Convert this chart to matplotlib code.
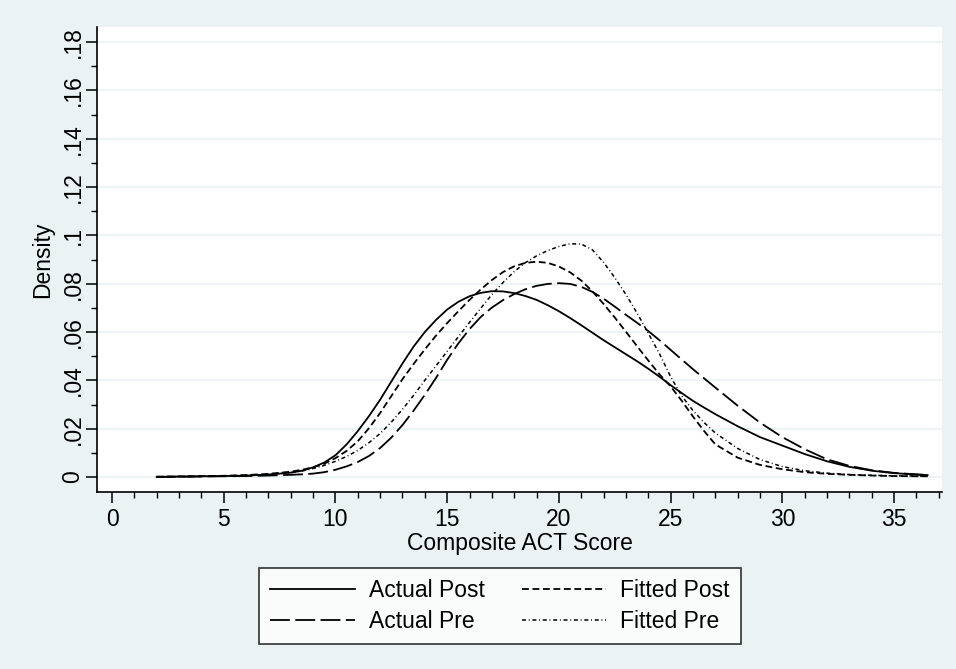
import numpy as np
import matplotlib.pyplot as plt
from matplotlib.ticker import MultipleLocator, FuncFormatter

plt.rcParams['font.family'] = ['Liberation Sans', 'DejaVu Sans']

score = [2, 3, 4, 5, 6, 7, 8,
         8.5, 9, 9.5, 10, 10.5, 11, 11.5, 12, 12.5, 13, 13.5, 14, 14.5, 15, 15.5,
         16, 16.5, 17, 17.5, 18, 18.5, 19, 19.5, 20, 20.5, 21, 21.5, 22, 22.5,
         23, 23.5, 24, 24.5, 25, 25.5, 26, 26.5, 27,
         28, 29, 30, 31, 32, 33, 34, 35, 36, 36.5]

actual_post = [0.0001, 0.0002, 0.0003, 0.0004, 0.0006, 0.001, 0.0018,
               0.0026, 0.004, 0.006, 0.009, 0.0135, 0.019, 0.0252, 0.032, 0.0395,
               0.047, 0.054, 0.060, 0.065, 0.0693, 0.0725, 0.0748, 0.0762, 0.0769,
               0.0768, 0.0761, 0.0749, 0.0733, 0.0711, 0.0686, 0.0658, 0.0628,
               0.0597, 0.0566, 0.0537, 0.0508, 0.0479, 0.0448, 0.0415, 0.038,
               0.0347, 0.0315, 0.0287, 0.026,
               0.021, 0.0165, 0.013, 0.0095, 0.0065, 0.0042, 0.0026, 0.0016, 0.001, 0.0008]

actual_pre = [0.0, 0.0001, 0.0002, 0.0003, 0.0004, 0.0006, 0.0009,
              0.0011, 0.0014, 0.002, 0.003, 0.0044, 0.0062, 0.0087, 0.012, 0.0163,
              0.0215, 0.0275, 0.034, 0.041, 0.0485, 0.0553, 0.0612, 0.0662, 0.0701,
              0.0732, 0.0757, 0.0777, 0.0791, 0.0799, 0.0802, 0.0799, 0.0787,
              0.0766, 0.0738, 0.0705, 0.0671, 0.0638, 0.0604, 0.0566, 0.0526,
              0.0486, 0.0446, 0.0408, 0.037,
              0.0295, 0.0225, 0.0165, 0.0115, 0.0073, 0.0046, 0.0028, 0.0017, 0.0011, 0.0008]

fitted_post = [0.0001, 0.0002, 0.0003, 0.0005, 0.0008, 0.0013, 0.0022,
               0.003, 0.004, 0.0055, 0.0078, 0.0108, 0.0148, 0.0202, 0.0265, 0.0335,
               0.0405, 0.0468, 0.0528, 0.0585, 0.0637, 0.0686, 0.0733, 0.0776, 0.0815,
               0.0848, 0.0872, 0.0886, 0.0891, 0.0886, 0.0871, 0.0847, 0.0813,
               0.0768, 0.0716, 0.066, 0.0601, 0.0541, 0.0482, 0.0425, 0.0375,
               0.0315, 0.025, 0.019, 0.0135,
               0.008, 0.005, 0.0032, 0.002, 0.0013, 0.0009, 0.0006, 0.0004, 0.0003, 0.0003]

fitted_pre = [0.0001, 0.0002, 0.0003, 0.0004, 0.0006, 0.001, 0.0018,
              0.0025, 0.0035, 0.0048, 0.0065, 0.0085, 0.011, 0.0142, 0.018, 0.0227,
              0.028, 0.0338, 0.040, 0.046, 0.052, 0.058, 0.064, 0.0698, 0.0755,
              0.0805, 0.085, 0.0887, 0.0915, 0.0937, 0.0954, 0.0965, 0.0964,
              0.094, 0.0888, 0.0825, 0.0755, 0.0678, 0.0595, 0.051, 0.0415,
              0.0335, 0.0275, 0.0225, 0.0182,
              0.0118, 0.0072, 0.0043, 0.0026, 0.0016, 0.001, 0.0007, 0.0005, 0.0004, 0.0003]

bg = '#EAF2F3'
fig = plt.figure(figsize=(9.56, 6.69), dpi=100, facecolor=bg)
ax = fig.add_axes([0.1015, 0.2646, 0.884, 0.695])
ax.set_facecolor('white')

lw = 1.3
ax.plot(score, actual_post, color='black', lw=lw, label='Actual Post')
ax.plot(score, fitted_post, color='black', lw=lw, dashes=(3.8, 2.0), label='Fitted Post')
ax.plot(score, actual_pre, color='black', lw=lw, dashes=(11, 3), label='Actual Pre')
ax.plot(score, fitted_pre, color='black', lw=1.1, dashes=(2.6, 1.8, 0.6, 1.8), label='Fitted Pre')

ax.set_xlim(-0.67, 37.15)
ax.set_ylim(-0.0062, 0.1862)

ax.xaxis.set_major_locator(MultipleLocator(5))
ax.xaxis.set_minor_locator(MultipleLocator(1))
ax.set_yticks(np.arange(0, 0.19, 0.02))
ax.yaxis.set_minor_locator(MultipleLocator(0.01))


def fmt(v, pos):
    if abs(v) < 1e-9:
        return '0'
    return ('%g' % round(v, 2)).lstrip('0')


ax.yaxis.set_major_formatter(FuncFormatter(fmt))
ax.grid(axis='y', color=bg, lw=1.2)
ax.set_axisbelow(True)

for s in ['top', 'right']:
    ax.spines[s].set_visible(False)
for s in ['left', 'bottom']:
    ax.spines[s].set_linewidth(1.2)

ax.tick_params(which='major', length=8, width=1.1, labelsize=16.5)
ax.tick_params(axis='y', which='major', pad=1)
ax.tick_params(which='minor', length=4.5, width=1.0)
for lab in ax.get_yticklabels():
    lab.set_rotation(90)
    lab.set_va('center')

ax.set_xlabel('Composite ACT Score', fontsize=16.5, labelpad=1)
ax.set_ylabel('Density', fontsize=16.5, labelpad=5)

h, l = ax.get_legend_handles_labels()
order = [0, 2, 1, 3]
leg = fig.legend([h[i] for i in order], [l[i] for i in order], ncol=2,
                 loc='center', bbox_to_anchor=(500 / 956, 1 - 606 / 669),
                 fontsize=16.5, frameon=True, fancybox=False, edgecolor='black',
                 handlelength=3.7, columnspacing=1.6, borderpad=0.5,
                 labelspacing=0.35, handletextpad=0.6)
leg.get_frame().set_linewidth(1.2)

fig.savefig('out.png', dpi=100, facecolor=bg)
